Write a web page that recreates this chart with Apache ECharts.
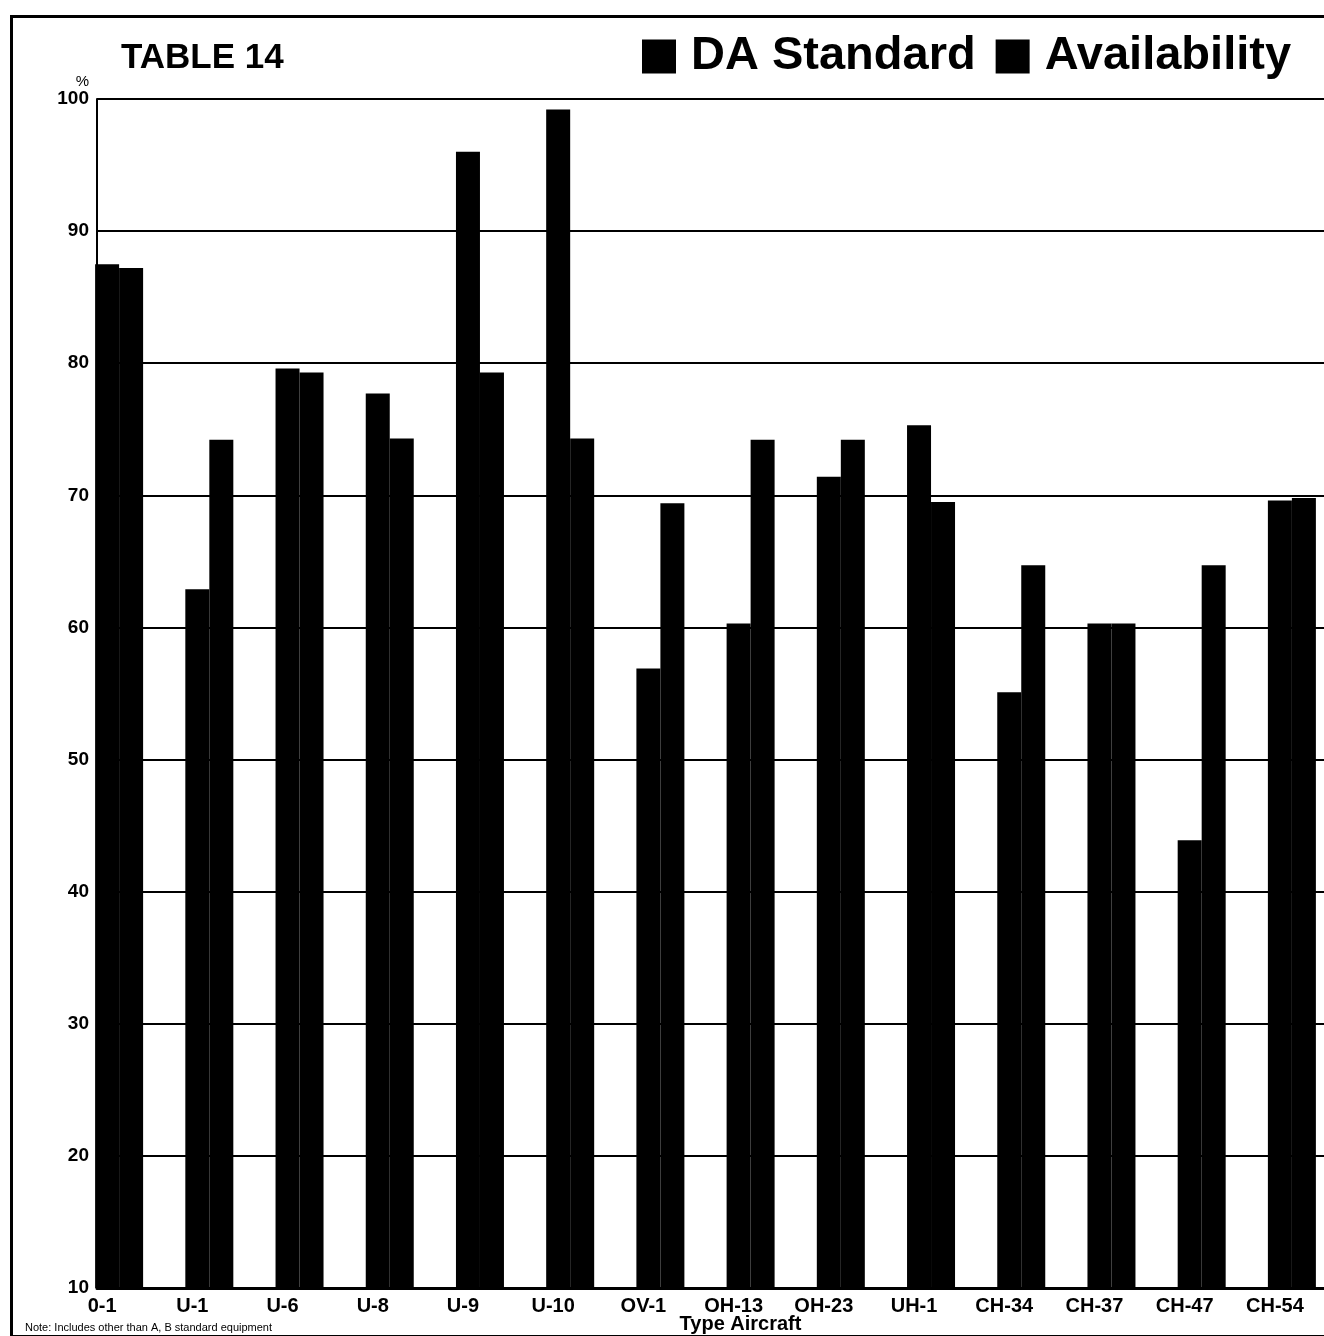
<!DOCTYPE html>
<html>
<head>
<meta charset="utf-8">
<title>Table 14</title>
<script src="https://cdn.jsdelivr.net/npm/echarts@6/dist/echarts.min.js"></script>
<style>
  html, body { margin: 0; padding: 0; background: #fff; }
  #histogramChart { width: 1324px; height: 1336px; }
</style>
</head>
<body>
<div id="histogramChart"></div>
<script>
var categories = ['0-1', 'U-1', 'U-6', 'U-8', 'U-9', 'U-10', 'OV-1', 'OH-13', 'OH-23', 'UH-1', 'CH-34', 'CH-37', 'CH-47', 'CH-54'];
var daStandard = [87.5, 62.9, 79.6, 77.7, 96.0, 99.2, 56.9, 60.3, 71.4, 75.3, 55.1, 60.3, 43.9, 69.6];
var availability = [87.2, 74.2, 79.3, 74.3, 79.3, 74.3, 69.4, 74.2, 74.2, 69.5, 64.7, 60.3, 64.7, 69.8];
var yMin = 10, yMax = 100, yStep = 10;

init();

function init(){
  var font = "'Liberation Sans', Arial, sans-serif";

  //飞机类型柱状图
  var histogramChart = echarts.init(document.getElementById('histogramChart'));
  histogramChart.setOption({
    backgroundColor: '#fff',
    animation: false,
    color: ['#000', '#000'],
    title: [
      {
        text: 'TABLE 14',
        left: 116,
        top: 36,
        textStyle: { color: '#000', fontSize: 35, fontWeight: 'bold', fontFamily: font }
      },
      {
        text: 'Note: Includes other than A, B standard equipment',
        left: 20,
        top: 1317,
        textStyle: { color: '#000', fontSize: 11, fontWeight: 'normal', fontFamily: font }
      }
    ],
    legend: {
      left: 637,
      top: 28,
      itemWidth: 34,
      itemHeight: 34,
      itemGap: 20,
      icon: 'rect',
      textStyle: { color: '#000', fontSize: 47, fontWeight: 'bold', fontFamily: font, padding: [0, 0, 0, 10] },
      data: ['DA Standard', 'Availability']
    },
    grid: [
      { left: 74, top: 99, width: 1263, height: 1189, outerBoundsMode: 'none', containLabel: false },
      { left: 97, top: 99, width: 1240, height: 1189, outerBoundsMode: 'none', containLabel: false }
    ],
    xAxis: [
      {
        type: 'category',
        gridIndex: 0,
        data: categories,
        axisLine: { show: false },
        axisTick: { show: false },
        axisLabel: {
          interval: 0,
          margin: 8,
          padding: [0, 34, 0, 0],
          color: '#000',
          fontSize: 20,
          fontWeight: 'bold',
          fontFamily: font
        },
        name: 'Type Aircraft',
        nameLocation: 'middle',
        nameGap: 26,
        nameMoveOverlap: false,
        nameTextStyle: { color: '#000', fontSize: 20, fontWeight: 'bold', fontFamily: font, padding: [0, 0, 0, 70] }
      },
      {
        type: 'category',
        gridIndex: 1,
        data: categories,
        axisLine: { show: true, lineStyle: { color: '#000', width: 3 } },
        axisTick: { show: false },
        axisLabel: { show: false }
      }
    ],
    yAxis: [
      {
        type: 'value',
        gridIndex: 0,
        min: yMin,
        max: yMax,
        interval: yStep,
        show: false,
        splitLine: { show: false }
      },
      {
        type: 'value',
        gridIndex: 1,
        min: yMin,
        max: yMax,
        interval: yStep,
        name: '%',
        nameLocation: 'end',
        nameGap: 6,
        nameTextStyle: { color: '#000', fontSize: 15, fontFamily: font, align: 'right', padding: [0, 8, 0, 0] },
        axisLine: { show: true, lineStyle: { color: '#000', width: 2 } },
        axisTick: { show: false },
        axisLabel: { margin: 8, color: '#000', fontSize: 19, fontWeight: 'bold', fontFamily: font },
        splitLine: { show: true, lineStyle: { color: '#000', width: 2 } }
      }
    ],
    series: [
      {
        name: 'DA Standard',
        type: 'bar',
        xAxisIndex: 0,
        yAxisIndex: 0,
        barWidth: 24,
        barGap: '0%',
        clip: true,
        itemStyle: { color: '#000' },
        data: daStandard
      },
      {
        name: 'Availability',
        type: 'bar',
        xAxisIndex: 0,
        yAxisIndex: 0,
        barWidth: 24,
        barGap: '0%',
        clip: true,
        itemStyle: { color: '#000' },
        data: availability
      }
    ],
    graphic: [
      {
        type: 'rect',
        left: 9,
        top: 14,
        shape: { width: 1340, height: 1320 },
        style: { fill: 'none', stroke: '#000', lineWidth: 3 },
        silent: true
      }
    ]
  });
}
</script>
</body>
</html>
